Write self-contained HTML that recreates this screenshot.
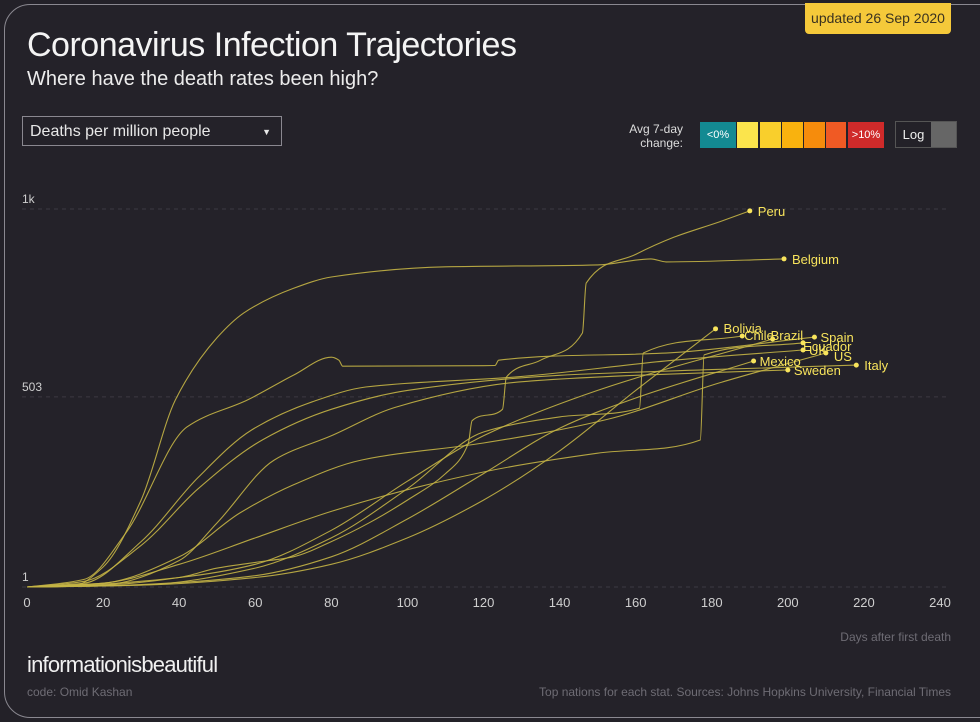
<!DOCTYPE html>
<html><head><meta charset="utf-8">
<style>
html,body{margin:0;padding:0;background:#232128;}
body{width:980px;height:722px;position:relative;overflow:hidden;font-family:"Liberation Sans",sans-serif;}
.frame{position:absolute;left:4px;top:4px;width:1000px;height:712px;border:1px solid #8a8890;border-radius:26px;background:#242229;}
.badge{position:absolute;left:805px;top:3px;width:146px;height:31px;background:#f5c93a;border-radius:0 0 4px 4px;color:#3a3220;font-size:14px;line-height:31px;text-align:center;}
.title{position:absolute;left:27px;top:26px;font-size:34px;color:#f4f4f4;letter-spacing:-0.5px;}
.sub{position:absolute;left:27px;top:68px;font-size:20px;color:#ececec;}
.dd{position:absolute;left:22px;top:116px;width:260px;height:30px;border:1px solid #8a8890;color:#e8e8e8;font-size:16px;line-height:30px;box-sizing:border-box;padding-left:7px;}
.dd span{position:absolute;right:10px;top:0;font-size:9px;}
.avg{position:absolute;left:600px;top:122px;width:83px;text-align:right;color:#ddd;font-size:12px;line-height:14px;}
.sw{position:absolute;top:122px;height:26px;font-size:11px;color:#fff;text-align:center;line-height:26px;}
.log{position:absolute;left:895px;top:121px;width:62px;height:27px;border:1px solid #555;box-sizing:border-box;background:#666;}
.log b{position:absolute;left:0;top:0;width:35px;height:25px;background:#232128;color:#eee;font-weight:normal;font-size:13px;line-height:25px;text-align:center;}
.brand{position:absolute;left:27px;top:652px;font-size:22px;color:#f0f0f0;letter-spacing:-0.8px;}
.code{position:absolute;left:27px;top:685px;font-size:12px;color:#6e6c74;}
.src{position:absolute;right:29px;top:685px;font-size:12px;color:#6e6c74;}
.days{position:absolute;right:29px;top:630px;font-size:12px;color:#6e6c74;}
svg{position:absolute;left:0;top:0;}
</style></head>
<body>
<div class="frame"></div>
<div class="badge">updated 26 Sep 2020</div>
<div class="title">Coronavirus Infection Trajectories</div>
<div class="sub">Where have the death rates been high?</div>
<div class="dd">Deaths per million people<span>▼</span></div>
<div class="avg">Avg 7-day<br>change:</div>
<div class="sw" style="left:700px;width:36px;background:#138a92">&lt;0%</div>
<div class="sw" style="left:737px;width:21px;background:#fbe44c"></div>
<div class="sw" style="left:760px;width:21px;background:#f9cf2c"></div>
<div class="sw" style="left:782px;width:21px;background:#f9b20e"></div>
<div class="sw" style="left:804px;width:21px;background:#f68c0c"></div>
<div class="sw" style="left:826px;width:20px;background:#f05a24"></div>
<div class="sw" style="left:848px;width:36px;background:#cf2a2a">&gt;10%</div>
<div class="log"><b>Log</b></div>
<svg id="chart" width="980" height="722"></svg>
<div class="days">Days after first death</div>
<div class="brand">informationisbeautiful</div>
<div class="code">code: Omid Kashan</div>
<div class="src">Top nations for each stat. Sources: Johns Hopkins University, Financial Times</div>
<script>
const xTicks=[0,20,40,60,80,100,120,140,160,180,200,220,240];
const yTicks=[1,503,1000];
const yTickLabels=["1","503","1k"];
const countries=["Peru","Belgium","Bolivia","Chile","Brazil","Spain","Ecuador","UK","US","Italy","Mexico","Sweden"];
const peruDays=[0,20,40,50,60,70,80,90,100,110,116,117,125,126,135,146,147,160,170,182,190];
const peruVals=[0,5,25,50,65,80,120,170,230,300,380,440,470,555,600,672,804,880,925,966,995];
const belgiumDays=[0,12,20,30,39,50,57,70,80,110,150,164,168,199];
const belgiumVals=[0,2,53,230,495,660,725,790,820,847,852,868,860,868];
const boliviaDays=[0,30,60,80,100,120,140,160,181];
const boliviaVals=[0,5,25,60,130,230,360,520,683];
const chileDays=[0,30,60,80,100,120,140,161,162,188];
const chileVals=[0,5,50,130,260,410,450,473,619,664];
const brazilDays=[0,20,40,60,80,100,120,150,196];
const brazilVals=[0,8,25,60,150,280,400,520,656];
const spainDays=[0,15,26,42,58,70,80,82,83,123,124,170,207];
const spainVals=[0,20,143,423,495,560,608,600,584,586,600,620,661];
const ecuadorDays=[0,20,40,60,80,103,127,150,177,178,204];
const ecuadorVals=[0,10,60,130,200,265,318,354,389,614,646];
const ukDays=[0,15,30,45,59,75,89,129,170,204];
const ukVals=[0,10,120,290,415,490,529,556,600,627];
const usDays=[0,20,40,56,70,88,120,152,182,210];
const usVals=[0,10,80,196,270,336,381,442,540,619];
const italyDays=[0,15,30,45,62,80,100,140,180,218];
const italyVals=[0,15,110,260,390,470,520,560,575,587];
const mexicoDays=[0,20,40,60,80,100,120,140,160,191];
const mexicoVals=[0,3,12,30,80,180,300,420,500,598];
const swedenDays=[0,20,40,50,65,80,97,129,160,200];
const swedenVals=[0,5,70,170,336,400,476,542,560,574];
const seriesDays=[peruDays,belgiumDays,boliviaDays,chileDays,brazilDays,spainDays,ecuadorDays,ukDays,usDays,italyDays,mexicoDays,swedenDays];
const seriesVals=[peruVals,belgiumVals,boliviaVals,chileVals,brazilVals,spainVals,ecuadorVals,ukVals,usVals,italyVals,mexicoVals,swedenVals];
const labelDx=[8,8,8,2,-2,6,0,6,8,8,6,6];
const labelDy=[5,5,4,4,1,5,8,5,8,5,5,5];

const X0=27,X1=940,Y0=587,Y1=209;
const sx=d=>X0+(d-0)/(240-0)*(X1-X0);
const sy=v=>Y0-(v-0)/(1000-0)*(Y0-Y1);
const NS="http://www.w3.org/2000/svg";
const svg=document.getElementById('chart');
function mk(t,a){const e=document.createElementNS(NS,t);for(const k in a)e.setAttribute(k,a[k]);return e;}
function monotonePath(xs,ys){
  const n=xs.length;if(n<2)return '';
  const dx=[],m=[],t=new Array(n);
  for(let i=0;i<n-1;i++){dx[i]=xs[i+1]-xs[i];m[i]=(ys[i+1]-ys[i])/dx[i];}
  t[0]=m[0];t[n-1]=m[n-2];
  for(let i=1;i<n-1;i++){
    if(m[i-1]*m[i]<=0)t[i]=0;
    else{const w1=2*dx[i]+dx[i-1],w2=dx[i]+2*dx[i-1];t[i]=(w1+w2)/(w1/m[i-1]+w2/m[i]);}
  }
  let d='M'+xs[0].toFixed(1)+','+ys[0].toFixed(1);
  for(let i=0;i<n-1;i++){
    const h=dx[i]/3;
    d+='C'+(xs[i]+h).toFixed(1)+','+(ys[i]+t[i]*h).toFixed(1)+' '+(xs[i+1]-h).toFixed(1)+','+(ys[i+1]-t[i+1]*h).toFixed(1)+' '+xs[i+1].toFixed(1)+','+ys[i+1].toFixed(1);
  }
  return d;
}

yTicks.forEach((v,i)=>{
  const yy=sy(v===1?0:v);
  const g=mk('line',{x1:22,x2:950,y1:yy,y2:yy,stroke:'#3c3a42','stroke-dasharray':'4,4'});
  
  
  svg.appendChild(g);
  const t=mk('text',{x:22,y:yy-6,fill:'#cfcfcf','font-size':12,'font-family':'Liberation Sans, sans-serif'});
  t.textContent=yTickLabels[i];
  
  
  svg.appendChild(t);
});
xTicks.forEach(d=>{
  const t=mk('text',{x:sx(d),y:607,fill:'#cfcfcf','font-size':13,'text-anchor':'middle','font-family':'Liberation Sans, sans-serif'});
  t.textContent=d;
  
  
  svg.appendChild(t);
});
countries.forEach((c,i)=>{
  const ds=seriesDays[i],vs=seriesVals[i];
  const p=monotonePath(ds.map(sx),vs.map(sy));
  const path=mk('path',{d:p,fill:'none',stroke:'#c4b445','stroke-width':1.1,opacity:0.9});
  
  
  svg.appendChild(path);
});
countries.forEach((c,i)=>{
  const ds=seriesDays[i],vs=seriesVals[i];
  const ex=sx(ds[ds.length-1]),ey=sy(vs[vs.length-1]);
  const dot=mk('circle',{cx:ex,cy:ey,r:2.5,fill:'#f8e45c'});
  
  
  svg.appendChild(dot);
  const t=mk('text',{x:ex+labelDx[i],y:ey+labelDy[i],fill:'#f8e45c','font-size':13,'font-family':'Liberation Sans, sans-serif'});
  t.textContent=c;
  
  
  svg.appendChild(t);
});
</script>
</body></html>
